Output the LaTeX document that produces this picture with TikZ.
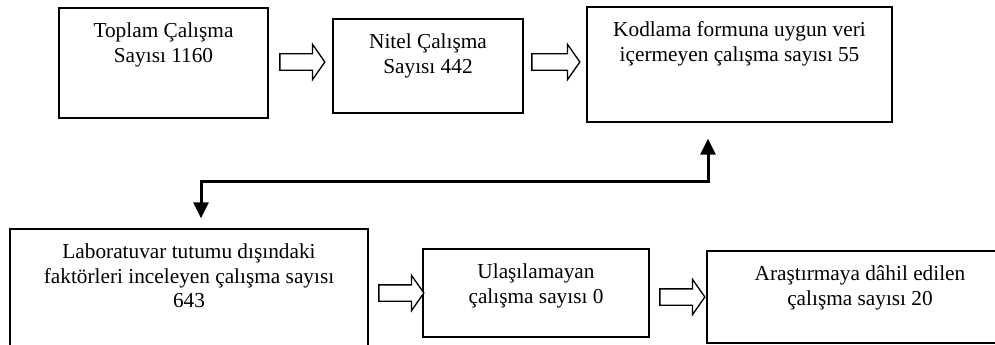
\documentclass[tikz,border=0pt]{standalone}
\usepackage{fontspec}
\setmainfont{Liberation Serif}
\usepackage{tikz}
\usetikzlibrary{arrows.meta,positioning,shapes.arrows}
\tikzset{
  flowbox/.style={rectangle,draw=black,fill=white,line width=1.4pt,inner sep=0pt},
  boxtext/.style={align=center,inner sep=0pt,font=\fontsize{21.3}{24.5}\selectfont},
  blockarrow/.style={single arrow,draw=black,fill=white,line width=1.3pt,
    minimum height=45pt,inner xsep=0pt,inner ysep=7.5pt,single arrow head extend=9.5pt,
    single arrow tip angle=110},
  loopedge/.style={<->,>={Triangle[length=16pt,width=15pt]},line width=3pt},
}

\begin{document}
\begin{tikzpicture}[x=1pt,y=-1pt]
  \clip (0,0) rectangle (995,345);
  % top row
  \node[flowbox,minimum width=209pt,minimum height=110pt] (b1) at (163.5,63) {};
  \node[flowbox,minimum width=190pt,minimum height=94pt]  (b2) at (428,66) {};
  \node[flowbox,minimum width=305pt,minimum height=115pt] (b3) at (739.5,64.5) {};
  \node[boxtext,below=15.5pt of b1.north] (t1) {Toplam Çalışma\\Sayısı 1160};
  \node[boxtext,below=15.5pt of b2.north] (t2) {Nitel Çalışma\\Sayısı 442};
  \node[boxtext,below=15.5pt of b3.north] (t3) {Kodlama formuna uygun veri\\içermeyen çalışma sayısı 55};
  \node[blockarrow] (a1) at (299.5,62) {};
  \node[blockarrow,minimum height=48pt] (a2) at (553,62) {};
  % bottom row
  \node[flowbox,minimum width=358pt,minimum height=131pt] (b4) at (189,294.5) {};
  \node[flowbox,minimum width=226pt,minimum height=88pt]  (b5) at (536,293) {};
  \node[flowbox,minimum width=306pt,minimum height=92pt]  (b6) at (860,297) {};
  \node[boxtext,below=15.5pt of b4.north] (t4) {Laboratuvar tutumu dışındaki\\faktörleri inceleyen çalışma sayısı\\643};
  \node[boxtext,below=15.5pt of b5.north] (t5) {Ulaşılamayan\\çalışma sayısı 0};
  \node[boxtext,below=15.5pt of b6.north] (t6) {Araştırmaya dâhil edilen\\çalışma sayısı 20};
  \node[blockarrow] (a3) at (398.5,293) {};
  \node[blockarrow] (a4) at (679.5,297) {};
  % link between the rows
  \coordinate (jn) at (201,181.5);
  \draw[loopedge] ([xshift=-31.5pt,yshift=-16pt]b3.south) |- (jn)
    -- ([xshift=12pt,yshift=10pt]b4.north);
\end{tikzpicture}
\end{document}
